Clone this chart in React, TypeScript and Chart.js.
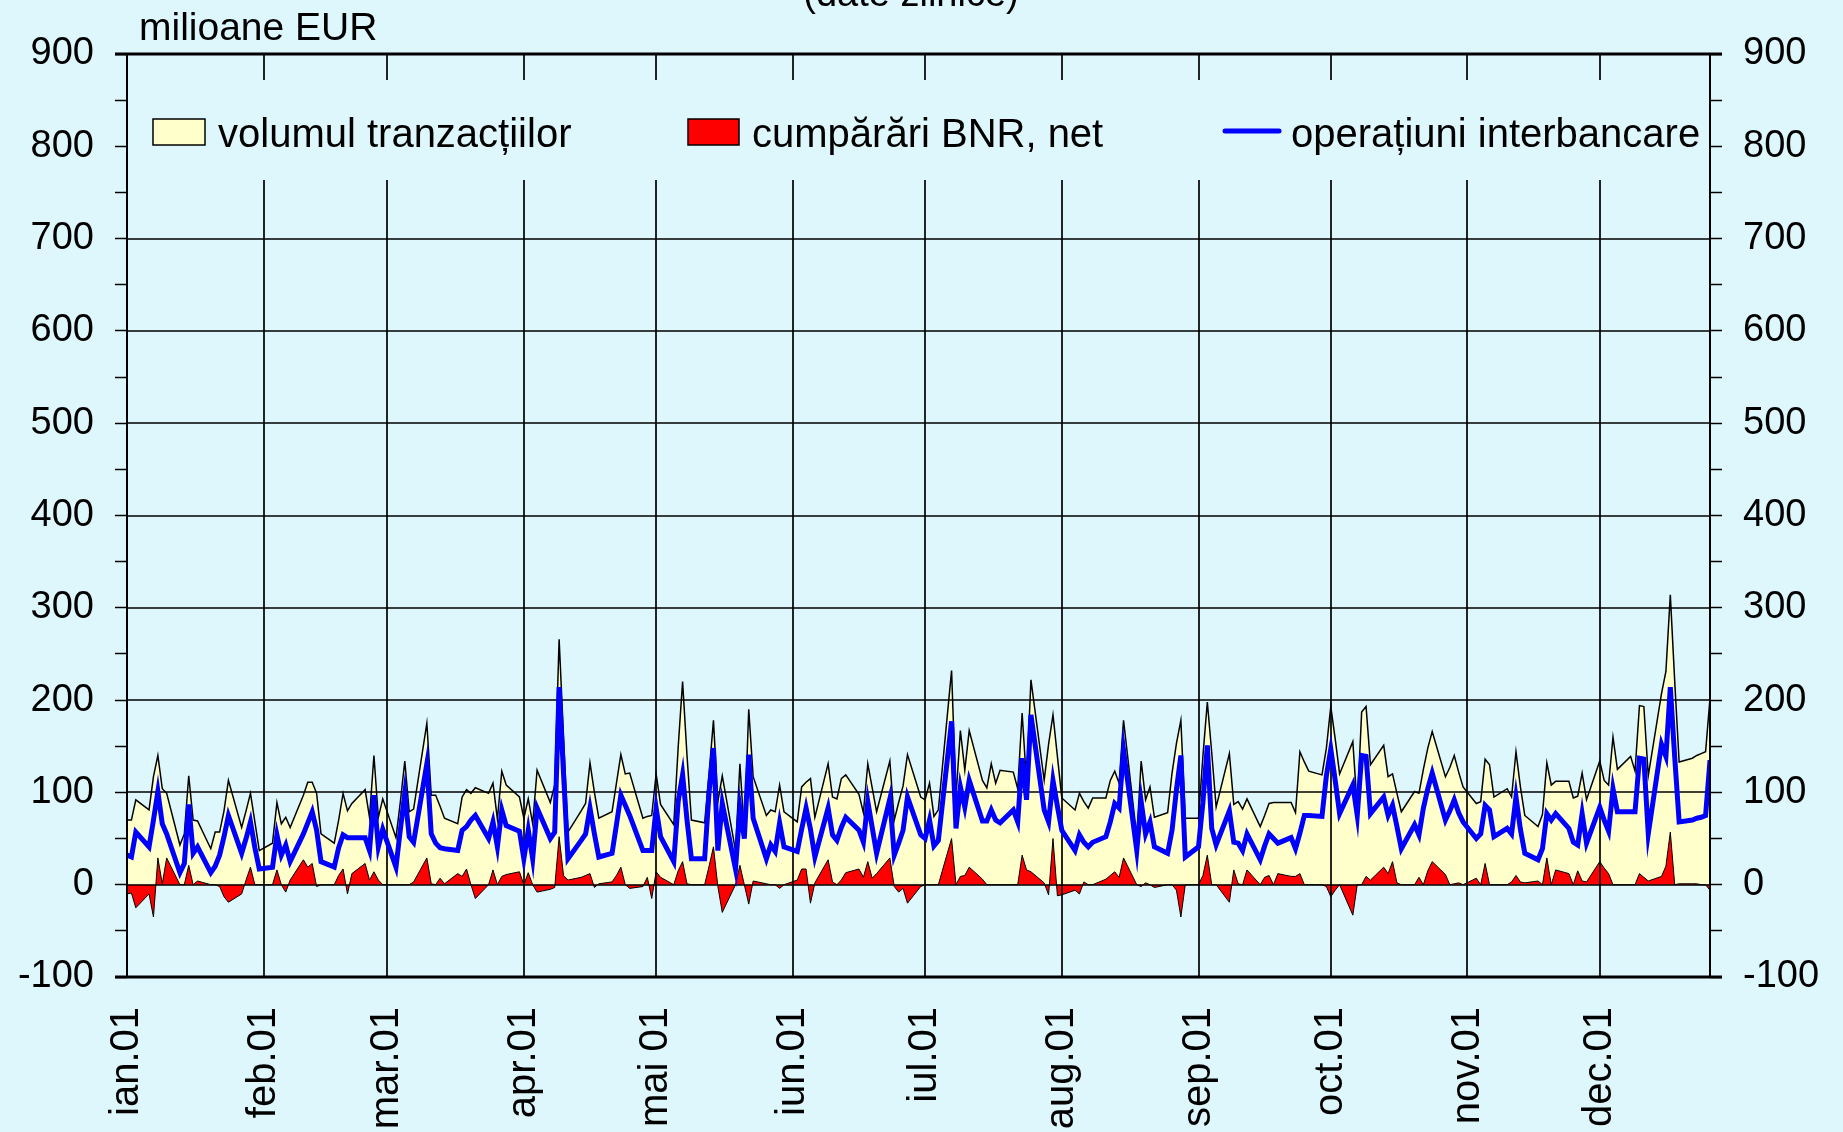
import { useEffect, useRef } from 'react';
import { Chart, registerables } from 'chart.js';

Chart.register(...registerables);

// x categories: working days (day of year, 1 Jan = 0)
const DAYS = [
  0, 1, 2,
  5, 6, 7, 8, 9,
  12, 13, 14, 15, 16,
  19, 20, 21, 22, 23,
  26, 27, 28, 29, 30,
  33, 34, 35, 36, 37,
  40, 41, 42, 43, 44,
  47, 48, 49, 50, 51,
  54, 55, 56, 57, 58,
  61, 62, 63, 64, 65,
  68, 69, 70, 71, 72,
  75, 76, 77, 78, 79,
  82, 83, 84, 85, 86,
  89, 90, 91, 92, 93,
  96, 97, 98, 99, 100,
  103, 104, 105, 106, 107,
  110, 111, 112, 113, 114,
  117, 118, 119, 120, 121,
  124, 125, 126, 127, 128,
  131, 132, 133, 134, 135,
  138, 139, 140, 141, 142,
  145, 146, 147, 148, 149,
  152, 153, 154, 155, 156,
  159, 160, 161, 162, 163,
  166, 167, 168, 169, 170,
  173, 174, 175, 176, 177,
  180, 181, 182, 183, 184,
  187, 188, 189, 190, 191,
  194, 195, 196, 197, 198,
  201, 202, 203, 204, 205,
  208, 209, 210, 211, 212,
  215, 216, 217, 218, 219,
  222, 223, 224, 225, 226,
  229, 230, 231, 232, 233,
  236, 237, 238, 239, 240,
  243, 244, 245, 246, 247,
  250, 251, 252, 253, 254,
  257, 258, 259, 260, 261,
  264, 265, 266, 267, 268,
  271, 272, 273, 274, 275,
  278, 279, 280, 281, 282,
  285, 286, 287, 288, 289,
  292, 293, 294, 295, 296,
  299, 300, 301, 302, 303,
  306, 307, 308, 309, 310,
  313, 314, 315, 316, 317,
  320, 321, 322, 323, 324,
  327, 328, 329, 330, 331,
  334, 335, 336, 337, 338,
  341, 342, 343, 344, 345,
  348, 349, 350, 351, 352,
  355, 356, 357, 358, 359,
];

const VOLUME = [
  70, 70, 92,
  81, 117, 140, 104, 99,
  43, 55, 118, 70, 69,
  39, 57, 57, 80, 113,
  62, 80, 99, 68, 37,
  45, 89, 66, 73, 62,
  97, 111, 111, 99, 55,
  45, 70, 99, 80, 88,
  103, 73, 140, 73, 93,
  51, 90, 134, 79, 82,
  175, 97, 97, 85, 72,
  66, 95, 103, 99, 105,
  99, 110, 71, 123, 108,
  95, 72, 93, 66, 124,
  89, 108, 266, 160, 57,
  80, 88, 132, 100, 72,
  79, 110, 141, 120, 121,
  72, 74, 75, 120, 87,
  65, 149, 220, 140, 70,
  67, 120, 178, 90, 118,
  37, 131, 55, 190, 117,
  75, 81, 79, 108, 79,
  68, 106, 111, 115, 73,
  131, 95, 93, 115, 119,
  98, 78, 131, 105, 79,
  134, 70, 89, 107, 141,
  95, 92, 110, 74, 81,
  232, 95, 167, 124, 167,
  113, 105, 131, 110, 124,
  122, 104, 186, 111, 222,
  113, 152, 184, 139, 94,
  81, 99, 90, 83, 94,
  94, 113, 123, 110, 178,
  52, 134, 92, 106, 73,
  78, 121, 153, 178, 72,
  72, 139, 198, 143, 84,
  142, 87, 90, 82, 93,
  63, 75, 88, 89, 89,
  89, 78, 144, 133, 123,
  119, 148, 193, 158, 120,
  155, 83, 187, 193, 130,
  151, 117, 120, 99, 79,
  101, 99, 125, 148, 166,
  117, 127, 140, 122, 106,
  88, 90, 136, 130, 95,
  104, 95, 144, 106, 75,
  63, 76, 132, 108, 112,
  112, 94, 96, 121, 92,
  134, 113, 108, 160, 125,
  139, 123, 194, 193, 118,
  207, 231, 314, 220, 133,
  137, 140, 142, 144, 202,
];

const BNR_NET = [
  -10, -9, -25,
  -10, -35, 29, 1, 29,
  0, 0, 21, 0, 4,
  0, 0, -2, -13, -19,
  -10, 5, 19, 0, 0,
  0, 16, 0, -8, 5,
  27, 19, 23, -2, 0,
  0, 10, 17, -10, 12,
  23, 5, 14, 5, 0,
  0, 0, 0, 0, 3,
  29, 1, 0, 7, 1,
  12, 9, 17, 0, -15,
  0, 16, 0, 9, 11,
  14, 0, 13, 0, -8,
  -5, -3, 52, 10, 5,
  8, 10, 12, -3, 1,
  3, 10, 19, 0, -4,
  -2, 8, -15, 14, 8,
  0, 15, 25, 1, 0,
  0, 20, 41, -2, -30,
  0, 21, 0, -21, 4,
  1, 0, 0, -4, 0,
  5, 17, 17, -20, 2,
  27, 3, 0, 5, 13,
  17, 8, 25, 7, 12,
  29, -2, -8, -4, -20,
  -2, 0, 0, 0, 0,
  50, 0, 9, 10, 19,
  6, 0, 0, 0, 0,
  0, 0, 32, 16, 14,
  2, -11, 50, -12, -11,
  -6, -10, 3, 0, 0,
  6, 10, 14, 8, 29,
  0, -2, 2, 0, -3,
  0, 0, -6, -35, 0,
  0, 10, 32, 0, 0,
  -19, 16, 1, 0, 16,
  0, 8, 10, 0, 12,
  9, 9, 12, 0, 0,
  0, -2, -13, -6, 0,
  -33, 0, 0, 9, 5,
  19, 12, 25, 2, 0,
  0, 8, 0, 15, 25,
  11, 0, 1, 2, 0,
  7, 0, 23, 0, 0,
  0, 3, 10, 3, 2,
  4, 0, 29, 0, 16,
  12, 0, 15, 4, 3,
  25, 18, 12, 0, 0,
  0, 0, 12, 8, 4,
  9, 20, 57, 0, 1,
  1, 1, 0, 0, -6,
];

const INTERBANK = [
  32, 30, 57,
  41, 70, 101, 66, 55,
  13, 23, 87, 34, 41,
  13, 20, 32, 52, 75,
  34, 50, 68, 40, 17,
  19, 54, 32, 43, 25,
  55, 67, 79, 59, 25,
  19, 40, 54, 51, 51,
  51, 37, 97, 41, 60,
  19, 60, 99, 52, 46,
  131, 55, 45, 40, 39,
  37, 59, 63, 70, 75,
  50, 68, 41, 81, 64,
  58, 28, 59, 28, 83,
  50, 57, 214, 120, 28,
  48, 55, 83, 55, 30,
  34, 65, 97, 86, 75,
  37, 37, 37, 83, 52,
  25, 90, 119, 70, 28,
  28, 100, 148, 37, 88,
  17, 83, 50, 141, 72,
  28, 43, 36, 67, 41,
  36, 60, 83, 60, 30,
  83, 54, 48, 62, 73,
  59, 46, 90, 62, 34,
  93, 32, 45, 59, 95,
  54, 50, 70, 42, 48,
  177, 61, 106, 84, 113,
  69, 69, 81, 70, 67,
  81, 68, 137, 92, 184,
  81, 68, 113, 85, 59,
  37, 54, 46, 41, 46,
  52, 68, 88, 83, 146,
  37, 90, 55, 68, 41,
  34, 59, 103, 140, 30,
  41, 89, 151, 61, 43,
  80, 46, 45, 37, 55,
  27, 42, 55, 50, 45,
  51, 39, 56, 75, 75,
  74, 118, 147, 113, 77,
  108, 75, 140, 139, 77,
  95, 75, 86, 63, 39,
  65, 54, 83, 104, 121,
  70, 80, 92, 78, 68,
  50, 55, 86, 81, 52,
  61, 55, 95, 60, 34,
  27, 39, 77, 70, 77,
  61, 46, 43, 77, 45,
  84, 70, 58, 104, 79,
  79, 79, 137, 136, 55,
  152, 139, 214, 138, 68,
  70, 72, 73, 75, 135,
];

const MONTH_STARTS = [0, 31, 59, 90, 120, 151, 181, 212, 243, 273, 304, 334];
const MONTH_LABELS = ['ian.01', 'feb.01', 'mar.01', 'apr.01', 'mai 01', 'iun.01', 'iul.01', 'aug.01', 'sep.01', 'oct.01', 'nov.01', 'dec.01'];
const Y_TICKS = [-100, -50, 0, 50, 100, 150, 200, 250, 300, 350, 400, 450, 500, 550, 600, 650, 700, 750, 800, 850, 900];
const GRID_VALUES = [0, 100, 200, 300, 400, 500, 600, 700];
const SERIES_NAMES = ['volumul tranzacțiilor', 'cumpărări BNR, net', 'operațiuni interbancare'];
const UNIT_LABEL = 'milioane EUR';
const TITLE = '(date zilnice)';

const BG = '#DEF7FD';
const FONT = "'Liberation Sans', Arial, Helvetica, sans-serif";

export default function App() {
  const ref = useRef<HTMLCanvasElement>(null);

  useEffect(() => {
    document.body.style.margin = '0';
    document.body.style.background = BG;
    document.documentElement.style.background = BG;
    const canvas = ref.current;
    if (!canvas) return;

    const pts = (arr: number[]) => DAYS.map((d, i) => ({ x: d, y: arr[i] }));

    const decor = {
      id: 'decor',
      beforeDraw(chart: any) {
        const { ctx } = chart;
        ctx.save();
        ctx.fillStyle = BG;
        ctx.fillRect(0, 0, chart.width, chart.height);
        ctx.restore();
      },
      afterDatasetDraw(chart: any, args: any) {
        if (args.index !== 1) return;
        const { ctx, chartArea: a, scales } = chart;
        const x = scales.x;
        const y = scales.y;
        ctx.save();
        ctx.strokeStyle = '#000';
        ctx.lineWidth = 1.7;
        ctx.beginPath();
        for (const v of GRID_VALUES) {
          const py = Math.round(y.getPixelForValue(v));
          ctx.moveTo(a.left, py);
          ctx.lineTo(a.right, py);
        }
        for (const d of MONTH_STARTS.slice(1)) {
          const px = Math.round(x.getPixelForValue(d));
          ctx.moveTo(px, a.top);
          ctx.lineTo(px, a.bottom);
        }
        ctx.stroke();
        ctx.restore();
      },
      afterDraw(chart: any) {
        const { ctx, chartArea: a } = chart;
        ctx.save();
        // legend box
        ctx.fillStyle = BG;
        ctx.fillRect(a.left + 1, 80, a.right - a.left - 2, 100);
        ctx.font = `40px ${FONT}`;
        ctx.textBaseline = 'alphabetic';
        ctx.textAlign = 'left';
        // item 1
        ctx.fillStyle = '#FFFFCC';
        ctx.fillRect(153, 119, 52, 26);
        ctx.strokeStyle = '#000';
        ctx.lineWidth = 1.5;
        ctx.strokeRect(153, 119, 52, 26);
        ctx.fillStyle = '#000';
        ctx.fillText(SERIES_NAMES[0], 218, 147);
        // item 2
        ctx.fillStyle = '#FF0000';
        ctx.fillRect(688, 119, 51, 26);
        ctx.strokeRect(688, 119, 51, 26);
        ctx.fillStyle = '#000';
        ctx.fillText(SERIES_NAMES[1], 752, 147);
        // item 3
        ctx.strokeStyle = '#0000FF';
        ctx.lineWidth = 5;
        ctx.lineCap = 'round';
        ctx.beginPath();
        ctx.moveTo(1225, 131);
        ctx.lineTo(1279, 131);
        ctx.stroke();
        ctx.fillStyle = '#000';
        ctx.fillText(SERIES_NAMES[2], 1291, 147);

        // frame
        ctx.strokeStyle = '#000';
        ctx.lineCap = 'butt';
        ctx.lineWidth = 2;
        ctx.beginPath();
        ctx.moveTo(a.left, a.top);
        ctx.lineTo(a.left, a.bottom);
        ctx.moveTo(a.right, a.top);
        ctx.lineTo(a.right, a.bottom);
        ctx.stroke();
        ctx.lineWidth = 3;
        ctx.beginPath();
        ctx.moveTo(a.left - 12, a.top);
        ctx.lineTo(a.right + 12, a.top);
        ctx.moveTo(a.left - 12, a.bottom);
        ctx.lineTo(a.right + 12, a.bottom);
        ctx.stroke();

        // texts
        ctx.fillStyle = '#000';
        ctx.font = `39px ${FONT}`;
        ctx.textAlign = 'left';
        ctx.fillText(UNIT_LABEL, 139, 40);
        ctx.font = `38px ${FONT}`;
        ctx.textAlign = 'center';
        ctx.fillText(TITLE, 911, 6);
        ctx.restore();
      },
    };

    const yAxis = (position: 'left' | 'right', width: number) => ({
      type: 'linear' as const,
      position,
      min: -100,
      max: 900,
      afterBuildTicks: (s: any) => {
        s.ticks = Y_TICKS.map((v) => ({ value: v }));
      },
      afterFit: (s: any) => {
        s.width = width;
      },
      ticks: {
        autoSkip: false,
        padding: 21,
        color: '#000',
        font: { size: 38, family: FONT },
        callback: (v: any) => (Number(v) % 100 === 0 ? String(v) : ''),
      },
      grid: {
        display: true,
        drawOnChartArea: false,
        drawTicks: true,
        tickLength: 12,
        tickColor: '#000',
        tickWidth: 1.5,
      },
      border: { display: false },
    });

    const chart = new Chart(canvas, {
      type: 'line',
      data: {
        datasets: [
          {
            label: SERIES_NAMES[0],
            data: pts(VOLUME),
            fill: 'origin',
            backgroundColor: '#FFFFCC',
            borderColor: '#000',
            borderWidth: 1.5,
            pointRadius: 0,
            tension: 0,
            order: 3,
          },
          {
            label: SERIES_NAMES[1],
            data: pts(BNR_NET),
            fill: 'origin',
            backgroundColor: '#FF0000',
            borderColor: '#000',
            borderWidth: 1,
            pointRadius: 0,
            tension: 0,
            order: 2,
          },
          {
            label: SERIES_NAMES[2],
            data: pts(INTERBANK),
            fill: false,
            borderColor: '#0000FF',
            borderWidth: 5,
            pointRadius: 0,
            tension: 0,
            order: 1,
          },
        ],
      },
      options: {
        responsive: false,
        devicePixelRatio: 1,
        animation: false,
        layout: { padding: { top: 54, left: 0, right: 0, bottom: 0 } },
        plugins: {
          legend: { display: false },
          tooltip: { enabled: false },
          title: { display: false },
        },
        scales: {
          x: {
            type: 'linear',
            min: 0,
            max: 359,
            afterBuildTicks: (s: any) => {
              s.ticks = MONTH_STARTS.map((v) => ({ value: v }));
            },
            afterFit: (s: any) => {
              s.height = 155;
            },
            ticks: {
              autoSkip: false,
              minRotation: 90,
              maxRotation: 90,
              padding: 22,
              color: '#000',
              font: { size: 40, family: FONT },
              callback: (_v: any, i: number) => MONTH_LABELS[i],
            },
            grid: { display: false },
            border: { display: false },
          },
          y: yAxis('left', 127),
          y2: yAxis('right', 133),
        },
      } as any,
      plugins: [decor],
    });

    return () => chart.destroy();
  }, []);

  return (
    <div style={{ width: 1843, height: 1132, background: BG }}>
      <canvas ref={ref} width={1843} height={1132} style={{ display: 'block' }} />
    </div>
  );
}
